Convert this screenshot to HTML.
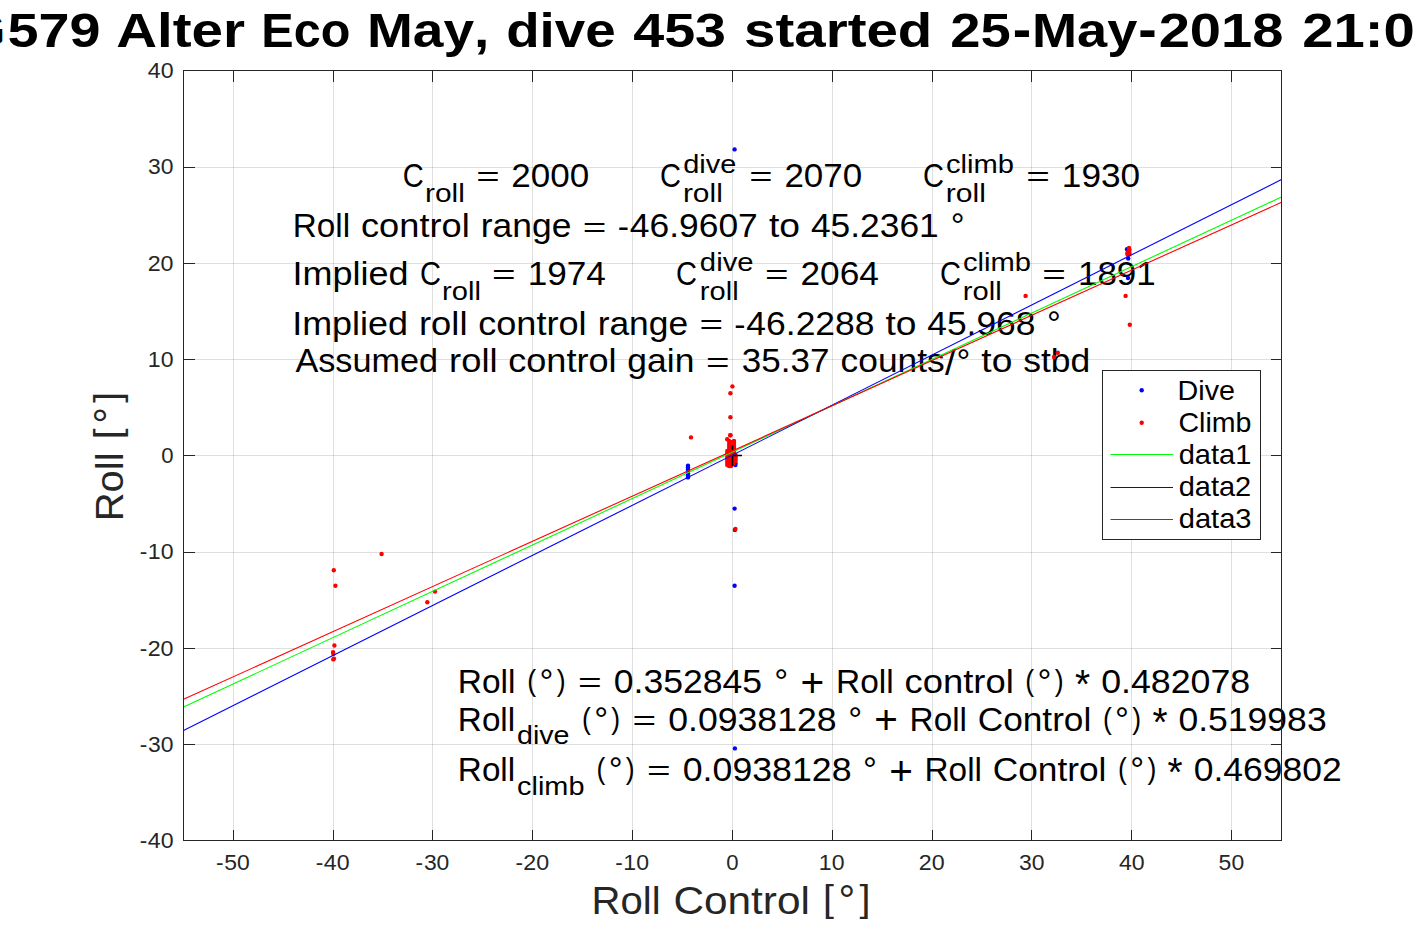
<!DOCTYPE html>
<html><head><meta charset="utf-8"><style>
html,body{margin:0;padding:0;background:#fff;overflow:hidden;}
svg{display:block;font-family:"Liberation Sans",sans-serif;font-kerning:none;}
text{font-kerning:none;}
</style></head><body>
<svg width="1417" height="945" viewBox="0 0 1417 945">
<rect x="0" y="0" width="1417" height="945" fill="#fff"/>
<path d="M233.5 70.5V840.5M333.5 70.5V840.5M432.5 70.5V840.5M532.5 70.5V840.5M632.5 70.5V840.5M732.5 70.5V840.5M832.5 70.5V840.5M932.5 70.5V840.5M1031.5 70.5V840.5M1131.5 70.5V840.5M1231.5 70.5V840.5" stroke="#262626" stroke-opacity="0.15" stroke-width="1" fill="none" shape-rendering="crispEdges"/>
<path d="M183.5 840.5H1281.5M183.5 744.5H1281.5M183.5 648.5H1281.5M183.5 552.5H1281.5M183.5 455.5H1281.5M183.5 359.5H1281.5M183.5 263.5H1281.5M183.5 167.5H1281.5M183.5 70.5H1281.5" stroke="#262626" stroke-opacity="0.15" stroke-width="1" fill="none" shape-rendering="crispEdges"/>
<text transform="matrix(0.8841 0 0 1 402.82 187.00)" font-size="32.90" fill="#000">C</text>
<text transform="matrix(1.1368 0 0 1 425.01 202.00)" font-size="26.31" fill="#000">roll</text>
<text transform="matrix(1.2188 0 0 0.8341 476.14 186.22)" font-size="32.90" fill="#000">=</text>
<text transform="matrix(1.0656 0 0 1 511.29 187.00)" font-size="32.90" fill="#000">2000</text>
<text transform="matrix(0.8841 0 0 1 659.92 187.00)" font-size="32.90" fill="#000">C</text>
<text transform="matrix(1.1001 0 0 1 683.28 172.80)" font-size="26.31" fill="#000">dive</text>
<text transform="matrix(1.1368 0 0 1 682.91 202.00)" font-size="26.31" fill="#000">roll</text>
<text transform="matrix(1.2155 0 0 0.8341 749.35 186.22)" font-size="32.90" fill="#000">=</text>
<text transform="matrix(1.0627 0 0 1 784.40 187.00)" font-size="32.90" fill="#000">2070</text>
<text transform="matrix(0.8841 0 0 1 923.12 187.00)" font-size="32.90" fill="#000">C</text>
<text transform="matrix(1.1068 0 0 1 945.96 172.80)" font-size="26.31" fill="#000">climb</text>
<text transform="matrix(1.1431 0 0 1 945.80 202.00)" font-size="26.31" fill="#000">roll</text>
<text transform="matrix(1.2288 0 0 0.8341 1026.13 186.22)" font-size="32.90" fill="#000">=</text>
<text transform="matrix(1.0710 0 0 1 1061.80 187.00)" font-size="32.90" fill="#000">1930</text>
<text transform="matrix(1.0123 0 0 1 292.77 237.30)" font-size="32.90" fill="#000">Roll</text>
<text transform="matrix(1.1012 0 0 1 361.01 237.30)" font-size="32.90" fill="#000">control</text>
<text transform="matrix(1.0772 0 0 1 480.73 237.30)" font-size="32.90" fill="#000">range</text>
<text transform="matrix(1.2288 0 0 0.8341 582.78 236.52)" font-size="32.90" fill="#000">=</text>
<text transform="matrix(1.0281 0 0 0.9762 617.72 237.25)" font-size="32.90" fill="#000">-</text>
<text transform="matrix(1.0774 0 0 1 629.73 237.30)" font-size="32.90" fill="#000">46.9607</text>
<text transform="matrix(1.1323 0 0 1 769.00 237.30)" font-size="32.90" fill="#000">to</text>
<text transform="matrix(1.0751 0 0 1 810.91 237.30)" font-size="32.90" fill="#000">45.2361</text>
<text transform="matrix(1.0534 0 0 1.0610 950.82 238.42)" font-size="32.90" fill="#000">°</text>
<text transform="matrix(1.0932 0 0 1 292.48 285.00)" font-size="32.90" fill="#000">Implied</text>
<text transform="matrix(0.8841 0 0 1 419.92 285.00)" font-size="32.90" fill="#000">C</text>
<text transform="matrix(1.1062 0 0 1 442.07 300.00)" font-size="26.31" fill="#000">roll</text>
<text transform="matrix(1.2275 0 0 0.8341 492.03 284.22)" font-size="32.90" fill="#000">=</text>
<text transform="matrix(1.0695 0 0 1 527.66 285.00)" font-size="32.90" fill="#000">1974</text>
<text transform="matrix(0.8841 0 0 1 676.02 285.00)" font-size="32.90" fill="#000">C</text>
<text transform="matrix(1.1131 0 0 1 699.87 270.80)" font-size="26.31" fill="#000">dive</text>
<text transform="matrix(1.1062 0 0 1 699.87 300.00)" font-size="26.31" fill="#000">roll</text>
<text transform="matrix(1.2275 0 0 0.8341 765.03 284.22)" font-size="32.90" fill="#000">=</text>
<text transform="matrix(1.0728 0 0 1 800.42 285.00)" font-size="32.90" fill="#000">2064</text>
<text transform="matrix(0.8841 0 0 1 940.12 285.00)" font-size="32.90" fill="#000">C</text>
<text transform="matrix(1.1068 0 0 1 962.96 270.80)" font-size="26.31" fill="#000">climb</text>
<text transform="matrix(1.1062 0 0 1 962.87 300.00)" font-size="26.31" fill="#000">roll</text>
<text transform="matrix(1.2290 0 0 0.8341 1042.23 284.22)" font-size="32.90" fill="#000">=</text>
<text transform="matrix(1.0643 0 0 1 1077.92 285.00)" font-size="32.90" fill="#000">1891</text>
<text transform="matrix(1.0928 0 0 1 292.18 335.10)" font-size="32.90" fill="#000">Implied</text>
<text transform="matrix(1.1057 0 0 1 418.98 335.10)" font-size="32.90" fill="#000">roll</text>
<text transform="matrix(1.0992 0 0 1 478.13 335.10)" font-size="32.90" fill="#000">control</text>
<text transform="matrix(1.0753 0 0 1 597.63 335.10)" font-size="32.90" fill="#000">range</text>
<text transform="matrix(1.2266 0 0 0.8341 699.50 334.32)" font-size="32.90" fill="#000">=</text>
<text transform="matrix(1.0262 0 0 0.9762 734.37 335.05)" font-size="32.90" fill="#000">-</text>
<text transform="matrix(1.0780 0 0 1 746.36 335.10)" font-size="32.90" fill="#000">46.2288</text>
<text transform="matrix(1.1303 0 0 1 885.38 335.10)" font-size="32.90" fill="#000">to</text>
<text transform="matrix(1.0759 0 0 1 927.21 335.10)" font-size="32.90" fill="#000">45.968</text>
<text transform="matrix(1.0515 0 0 1.0610 1046.94 336.22)" font-size="32.90" fill="#000">°</text>
<text transform="matrix(1.0402 0 0 1 295.43 372.40)" font-size="32.90" fill="#000">Assumed</text>
<text transform="matrix(1.1049 0 0 1 449.08 372.40)" font-size="32.90" fill="#000">roll</text>
<text transform="matrix(1.0984 0 0 1 508.20 372.40)" font-size="32.90" fill="#000">control</text>
<text transform="matrix(1.0768 0 0 1 627.36 372.40)" font-size="32.90" fill="#000">gain</text>
<text transform="matrix(1.2257 0 0 0.8341 705.98 371.62)" font-size="32.90" fill="#000">=</text>
<text transform="matrix(1.0644 0 0 1 741.85 372.40)" font-size="32.90" fill="#000">35.37</text>
<text transform="matrix(1.0742 0 0 1 840.57 372.40)" font-size="32.90" fill="#000">counts</text>
<text transform="matrix(1.1536 0 0 1.0657 944.94 374.96)" font-size="32.90" fill="#000">/</text>
<text transform="matrix(1.0507 0 0 1.0610 956.40 373.52)" font-size="32.90" fill="#000">°</text>
<text transform="matrix(1.1295 0 0 1 981.35 372.40)" font-size="32.90" fill="#000">to</text>
<text transform="matrix(1.0782 0 0 1 1023.15 372.40)" font-size="32.90" fill="#000">stbd</text>
<text transform="matrix(1.0170 0 0 1 457.86 693.00)" font-size="32.90" fill="#000">Roll</text>
<text transform="matrix(0.8099 0 0 0.9105 527.28 690.93)" font-size="32.90" fill="#000">(</text>
<text transform="matrix(1.0583 0 0 1.0610 539.45 694.12)" font-size="32.90" fill="#000">°</text>
<text transform="matrix(0.8099 0 0 0.9105 556.65 690.93)" font-size="32.90" fill="#000">)</text>
<text transform="matrix(1.2345 0 0 0.8341 577.95 692.22)" font-size="32.90" fill="#000">=</text>
<text transform="matrix(1.0819 0 0 1 613.71 693.00)" font-size="32.90" fill="#000">0.352845</text>
<text transform="matrix(1.0583 0 0 1.0610 774.36 694.12)" font-size="32.90" fill="#000">°</text>
<text transform="matrix(1.2345 0 0 1.2204 800.56 696.53)" font-size="32.90" fill="#000">+</text>
<text transform="matrix(1.0170 0 0 1 835.98 693.00)" font-size="32.90" fill="#000">Roll</text>
<text transform="matrix(1.1063 0 0 1 904.54 693.00)" font-size="32.90" fill="#000">control</text>
<text transform="matrix(0.8099 0 0 0.9105 1025.37 690.93)" font-size="32.90" fill="#000">(</text>
<text transform="matrix(1.0583 0 0 1.0610 1037.54 694.12)" font-size="32.90" fill="#000">°</text>
<text transform="matrix(0.8099 0 0 0.9105 1054.74 690.93)" font-size="32.90" fill="#000">)</text>
<text transform="matrix(1.1806 0 0 1.2372 1075.00 697.75)" font-size="32.90" fill="#000">*</text>
<text transform="matrix(1.0867 0 0 1 1101.15 693.00)" font-size="32.90" fill="#000">0.482078</text>
<text transform="matrix(1.0109 0 0 1 457.87 730.90)" font-size="32.90" fill="#000">Roll</text>
<text transform="matrix(1.0892 0 0 1 517.00 744.40)" font-size="26.31" fill="#000">dive</text>
<text transform="matrix(0.8069 0 0 0.9105 582.05 728.83)" font-size="32.90" fill="#000">(</text>
<text transform="matrix(1.0544 0 0 1.0610 594.18 732.02)" font-size="32.90" fill="#000">°</text>
<text transform="matrix(0.8069 0 0 0.9105 611.31 728.83)" font-size="32.90" fill="#000">)</text>
<text transform="matrix(1.2299 0 0 0.8341 632.54 730.12)" font-size="32.90" fill="#000">=</text>
<text transform="matrix(1.0839 0 0 1 668.16 730.90)" font-size="32.90" fill="#000">0.0938128</text>
<text transform="matrix(1.0544 0 0 1.0610 848.20 732.02)" font-size="32.90" fill="#000">°</text>
<text transform="matrix(1.2299 0 0 1.2204 874.32 734.43)" font-size="32.90" fill="#000">+</text>
<text transform="matrix(1.0132 0 0 1 909.61 730.90)" font-size="32.90" fill="#000">Roll</text>
<text transform="matrix(1.0716 0 0 1 977.70 730.90)" font-size="32.90" fill="#000">Control</text>
<text transform="matrix(0.8069 0 0 0.9105 1102.96 728.83)" font-size="32.90" fill="#000">(</text>
<text transform="matrix(1.0544 0 0 1.0610 1115.08 732.02)" font-size="32.90" fill="#000">°</text>
<text transform="matrix(0.8069 0 0 0.9105 1132.22 728.83)" font-size="32.90" fill="#000">)</text>
<text transform="matrix(1.1763 0 0 1.2372 1152.41 735.65)" font-size="32.90" fill="#000">*</text>
<text transform="matrix(1.0801 0 0 1 1178.46 730.90)" font-size="32.90" fill="#000">0.519983</text>
<text transform="matrix(1.0109 0 0 1 457.87 781.00)" font-size="32.90" fill="#000">Roll</text>
<text transform="matrix(1.0984 0 0 1 517.07 794.50)" font-size="26.31" fill="#000">climb</text>
<text transform="matrix(0.8079 0 0 0.9105 596.55 778.93)" font-size="32.90" fill="#000">(</text>
<text transform="matrix(1.0557 0 0 1.0610 608.69 782.12)" font-size="32.90" fill="#000">°</text>
<text transform="matrix(0.8079 0 0 0.9105 625.85 778.93)" font-size="32.90" fill="#000">)</text>
<text transform="matrix(1.2315 0 0 0.8341 647.10 780.22)" font-size="32.90" fill="#000">=</text>
<text transform="matrix(1.0852 0 0 1 682.76 781.00)" font-size="32.90" fill="#000">0.0938128</text>
<text transform="matrix(1.0557 0 0 1.0610 863.04 782.12)" font-size="32.90" fill="#000">°</text>
<text transform="matrix(1.2315 0 0 1.2204 889.18 784.53)" font-size="32.90" fill="#000">+</text>
<text transform="matrix(1.0145 0 0 1 924.51 781.00)" font-size="32.90" fill="#000">Roll</text>
<text transform="matrix(1.0730 0 0 1 992.69 781.00)" font-size="32.90" fill="#000">Control</text>
<text transform="matrix(0.8079 0 0 0.9105 1118.11 778.93)" font-size="32.90" fill="#000">(</text>
<text transform="matrix(1.0557 0 0 1.0610 1130.25 782.12)" font-size="32.90" fill="#000">°</text>
<text transform="matrix(0.8079 0 0 0.9105 1147.41 778.93)" font-size="32.90" fill="#000">)</text>
<text transform="matrix(1.1778 0 0 1.2372 1167.62 785.75)" font-size="32.90" fill="#000">*</text>
<text transform="matrix(1.0785 0 0 1 1193.71 781.00)" font-size="32.90" fill="#000">0.469802</text>
<g><circle cx="734.6" cy="149.4" r="2.2" fill="#0000ff"/><circle cx="734.9" cy="748.4" r="2.2" fill="#0000ff"/><circle cx="734.6" cy="508.6" r="2.2" fill="#0000ff"/><circle cx="734.9" cy="529.9" r="2.2" fill="#0000ff"/><circle cx="734.6" cy="585.7" r="2.2" fill="#0000ff"/><circle cx="1127" cy="249.3" r="2.2" fill="#0000ff"/><circle cx="1128.2" cy="258.5" r="2.2" fill="#0000ff"/><circle cx="1128" cy="278" r="2.2" fill="#0000ff"/><circle cx="1127.5" cy="253" r="2.2" fill="#0000ff"/><circle cx="688" cy="465.7" r="2.2" fill="#0000ff"/><circle cx="688" cy="467.5" r="2.2" fill="#0000ff"/><circle cx="688" cy="469.5" r="2.2" fill="#0000ff"/><circle cx="688" cy="471.5" r="2.2" fill="#0000ff"/><circle cx="688" cy="473.5" r="2.2" fill="#0000ff"/><circle cx="688" cy="475.5" r="2.2" fill="#0000ff"/><circle cx="688" cy="477.4" r="2.2" fill="#0000ff"/><circle cx="735.4" cy="463.3" r="2.2" fill="#0000ff"/><circle cx="735.4" cy="465.0" r="2.2" fill="#0000ff"/><circle cx="734" cy="458" r="2.2" fill="#0000ff"/><circle cx="732.4" cy="386.4" r="2.2" fill="#ff0000"/><circle cx="730.4" cy="393.3" r="2.2" fill="#ff0000"/><circle cx="730.4" cy="417.2" r="2.2" fill="#ff0000"/><circle cx="730.4" cy="435.3" r="2.2" fill="#ff0000"/><circle cx="691" cy="437.4" r="2.2" fill="#ff0000"/><circle cx="735.4" cy="529.0" r="2.2" fill="#ff0000"/><circle cx="1025.6" cy="295.9" r="2.2" fill="#ff0000"/><circle cx="1125.6" cy="295.9" r="2.2" fill="#ff0000"/><circle cx="1129.8" cy="324.8" r="2.2" fill="#ff0000"/><circle cx="1057.8" cy="352.7" r="2.2" fill="#ff0000"/><circle cx="1054" cy="357" r="2.2" fill="#ff0000"/><circle cx="381.6" cy="554.0" r="2.2" fill="#ff0000"/><circle cx="333.8" cy="570.3" r="2.2" fill="#ff0000"/><circle cx="335.4" cy="585.8" r="2.2" fill="#ff0000"/><circle cx="435.0" cy="591.6" r="2.2" fill="#ff0000"/><circle cx="427.3" cy="602.2" r="2.2" fill="#ff0000"/><circle cx="334.4" cy="645.5" r="2.2" fill="#ff0000"/><circle cx="333.1" cy="652.1" r="2.2" fill="#ff0000"/><circle cx="333.3" cy="653.9" r="2.2" fill="#ff0000"/><circle cx="333.3" cy="659.4" r="2.2" fill="#ff0000"/><circle cx="334" cy="658.6" r="2.2" fill="#ff0000"/><circle cx="1129" cy="248" r="2.2" fill="#ff0000"/><circle cx="1129.5" cy="250" r="2.2" fill="#ff0000"/><circle cx="1128" cy="252" r="2.2" fill="#ff0000"/><circle cx="1129.5" cy="253.5" r="2.2" fill="#ff0000"/><circle cx="1127.5" cy="254.5" r="2.2" fill="#ff0000"/><circle cx="1129" cy="254.5" r="2.2" fill="#ff0000"/><circle cx="730.3" cy="435.3" r="2.2" fill="#ff0000"/><circle cx="727.2" cy="439.3" r="2.2" fill="#ff0000"/><circle cx="729" cy="441" r="2.2" fill="#ff0000"/><circle cx="733.8" cy="442.8" r="2.2" fill="#ff0000"/><circle cx="731" cy="442" r="2.2" fill="#ff0000"/><circle cx="731" cy="444" r="2.2" fill="#ff0000"/><circle cx="731" cy="446" r="2.2" fill="#ff0000"/><circle cx="731" cy="448" r="2.2" fill="#ff0000"/><circle cx="731" cy="450" r="2.2" fill="#ff0000"/><circle cx="731" cy="452" r="2.2" fill="#ff0000"/><circle cx="731" cy="454" r="2.2" fill="#ff0000"/><circle cx="731" cy="456" r="2.2" fill="#ff0000"/><circle cx="731" cy="458" r="2.2" fill="#ff0000"/><circle cx="731" cy="460" r="2.2" fill="#ff0000"/><circle cx="731" cy="462" r="2.2" fill="#ff0000"/><circle cx="731" cy="464" r="2.2" fill="#ff0000"/><circle cx="731" cy="466" r="2.2" fill="#ff0000"/><circle cx="729.2" cy="444" r="2.2" fill="#ff0000"/><circle cx="729.2" cy="446" r="2.2" fill="#ff0000"/><circle cx="729.2" cy="448" r="2.2" fill="#ff0000"/><circle cx="729.2" cy="450" r="2.2" fill="#ff0000"/><circle cx="729.2" cy="452" r="2.2" fill="#ff0000"/><circle cx="729.2" cy="454" r="2.2" fill="#ff0000"/><circle cx="729.2" cy="456" r="2.2" fill="#ff0000"/><circle cx="729.2" cy="458" r="2.2" fill="#ff0000"/><circle cx="729.2" cy="460" r="2.2" fill="#ff0000"/><circle cx="729.2" cy="462" r="2.2" fill="#ff0000"/><circle cx="729.2" cy="464" r="2.2" fill="#ff0000"/><circle cx="729.2" cy="466" r="2.2" fill="#ff0000"/><circle cx="734.0" cy="441" r="2.2" fill="#ff0000"/><circle cx="734.0" cy="443" r="2.2" fill="#ff0000"/><circle cx="734.0" cy="445" r="2.2" fill="#ff0000"/><circle cx="734.0" cy="447" r="2.2" fill="#ff0000"/><circle cx="734.0" cy="449" r="2.2" fill="#ff0000"/><circle cx="734.0" cy="451" r="2.2" fill="#ff0000"/><circle cx="734.0" cy="453" r="2.2" fill="#ff0000"/><circle cx="727.3" cy="451" r="2.2" fill="#ff0000"/><circle cx="727.3" cy="453" r="2.2" fill="#ff0000"/><circle cx="727.3" cy="455" r="2.2" fill="#ff0000"/><circle cx="727.3" cy="457" r="2.2" fill="#ff0000"/><circle cx="727.3" cy="459" r="2.2" fill="#ff0000"/><circle cx="727.3" cy="461" r="2.2" fill="#ff0000"/><circle cx="727.3" cy="463" r="2.2" fill="#ff0000"/><circle cx="727.3" cy="465" r="2.2" fill="#ff0000"/><circle cx="735.6" cy="455" r="2.2" fill="#ff0000"/><circle cx="735.6" cy="457" r="2.2" fill="#ff0000"/><circle cx="735.6" cy="459" r="2.2" fill="#ff0000"/><circle cx="735.6" cy="461" r="2.2" fill="#ff0000"/><circle cx="733.2" cy="455" r="2.2" fill="#ff0000"/><circle cx="733.2" cy="458" r="2.2" fill="#ff0000"/><circle cx="733.2" cy="461" r="2.2" fill="#ff0000"/><circle cx="733.2" cy="464" r="2.2" fill="#ff0000"/></g>
<path d="M732.5 445.5V450M732.5 455.5V466M732.5 455.5H742" stroke="#000" stroke-width="1.6" fill="none"/>
<defs><clipPath id="ax"><rect x="183" y="70" width="1099" height="771"/></clipPath></defs>
<line x1="183.5" y1="707.0" x2="1281.5" y2="197.0" stroke="#00ff00" stroke-width="1.1" clip-path="url(#ax)"/>
<line x1="183.5" y1="730.5" x2="1281.5" y2="179.6" stroke="#0000ff" stroke-width="1.1" clip-path="url(#ax)"/>
<line x1="183.5" y1="699.3" x2="1281.5" y2="202.3" stroke="#ff0000" stroke-width="1.1" clip-path="url(#ax)"/>
<path d="M183.5 70.5H1281.5V840.5H183.5ZM233.5 840.5V829.5M233.5 70.5V81.5M333.5 840.5V829.5M333.5 70.5V81.5M432.5 840.5V829.5M432.5 70.5V81.5M532.5 840.5V829.5M532.5 70.5V81.5M632.5 840.5V829.5M632.5 70.5V81.5M732.5 840.5V829.5M732.5 70.5V81.5M832.5 840.5V829.5M832.5 70.5V81.5M932.5 840.5V829.5M932.5 70.5V81.5M1031.5 840.5V829.5M1031.5 70.5V81.5M1131.5 840.5V829.5M1131.5 70.5V81.5M1231.5 840.5V829.5M1231.5 70.5V81.5M183.5 840.5H194.5M1281.5 840.5H1270.5M183.5 744.5H194.5M1281.5 744.5H1270.5M183.5 648.5H194.5M1281.5 648.5H1270.5M183.5 552.5H194.5M1281.5 552.5H1270.5M183.5 455.5H194.5M1281.5 455.5H1270.5M183.5 359.5H194.5M1281.5 359.5H1270.5M183.5 263.5H194.5M1281.5 263.5H1270.5M183.5 167.5H194.5M1281.5 167.5H1270.5M183.5 70.5H194.5M1281.5 70.5H1270.5" stroke="#262626" stroke-width="1" fill="none" shape-rendering="crispEdges"/>
<text transform="matrix(1.0267 0 0 0.9762 139.71 848.07)" font-size="22.05" fill="#262626">-</text>
<text transform="matrix(1.0493 0 0 1 147.77 848.10)" font-size="22.05" fill="#262626">40</text>
<text transform="matrix(1.0267 0 0 0.9762 139.71 751.82)" font-size="22.05" fill="#262626">-</text>
<text transform="matrix(1.0395 0 0 1 148.00 751.85)" font-size="22.05" fill="#262626">30</text>
<text transform="matrix(1.0267 0 0 0.9762 139.71 655.57)" font-size="22.05" fill="#262626">-</text>
<text transform="matrix(1.0547 0 0 1 147.64 655.60)" font-size="22.05" fill="#262626">20</text>
<text transform="matrix(1.0267 0 0 0.9762 139.71 559.32)" font-size="22.05" fill="#262626">-</text>
<text transform="matrix(1.0471 0 0 1 147.82 559.35)" font-size="22.05" fill="#262626">10</text>
<text transform="matrix(1.0039 0 0 1 161.15 463.10)" font-size="22.05" fill="#262626">0</text>
<text transform="matrix(1.0471 0 0 1 147.82 366.85)" font-size="22.05" fill="#262626">10</text>
<text transform="matrix(1.0547 0 0 1 147.64 270.60)" font-size="22.05" fill="#262626">20</text>
<text transform="matrix(1.0395 0 0 1 148.00 174.35)" font-size="22.05" fill="#262626">30</text>
<text transform="matrix(1.0493 0 0 1 147.77 78.10)" font-size="22.05" fill="#262626">40</text>
<text transform="matrix(1.0267 0 0 0.9762 215.96 870.07)" font-size="22.05" fill="#262626">-</text>
<text transform="matrix(1.0406 0 0 1 224.22 870.10)" font-size="22.05" fill="#262626">50</text>
<text transform="matrix(1.0267 0 0 0.9762 315.78 870.07)" font-size="22.05" fill="#262626">-</text>
<text transform="matrix(1.0493 0 0 1 323.83 870.10)" font-size="22.05" fill="#262626">40</text>
<text transform="matrix(1.0267 0 0 0.9762 415.60 870.07)" font-size="22.05" fill="#262626">-</text>
<text transform="matrix(1.0395 0 0 1 423.88 870.10)" font-size="22.05" fill="#262626">30</text>
<text transform="matrix(1.0267 0 0 0.9762 515.42 870.07)" font-size="22.05" fill="#262626">-</text>
<text transform="matrix(1.0547 0 0 1 523.34 870.10)" font-size="22.05" fill="#262626">20</text>
<text transform="matrix(1.0267 0 0 0.9762 615.24 870.07)" font-size="22.05" fill="#262626">-</text>
<text transform="matrix(1.0471 0 0 1 623.34 870.10)" font-size="22.05" fill="#262626">10</text>
<text transform="matrix(1.0039 0 0 1 726.14 870.10)" font-size="22.05" fill="#262626">0</text>
<text transform="matrix(1.0471 0 0 1 818.85 870.10)" font-size="22.05" fill="#262626">10</text>
<text transform="matrix(1.0547 0 0 1 918.87 870.10)" font-size="22.05" fill="#262626">20</text>
<text transform="matrix(1.0395 0 0 1 1019.02 870.10)" font-size="22.05" fill="#262626">30</text>
<text transform="matrix(1.0493 0 0 1 1118.89 870.10)" font-size="22.05" fill="#262626">40</text>
<text transform="matrix(1.0406 0 0 1 1218.62 870.10)" font-size="22.05" fill="#262626">50</text>
<text transform="matrix(1.0109 0 0 1 591.61 913.75)" font-size="39.62" fill="#262626">Roll</text>
<text transform="matrix(1.0692 0 0 1 673.42 913.75)" font-size="39.62" fill="#262626">Control</text>
<text transform="matrix(0.9922 0 0 0.9110 823.10 911.23)" font-size="39.62" fill="#262626">[</text>
<text transform="matrix(1.0519 0 0 1.0610 838.49 915.10)" font-size="39.62" fill="#262626">°</text>
<text transform="matrix(0.9922 0 0 0.9110 859.61 911.23)" font-size="39.62" fill="#262626">]</text>
<g transform="translate(122.8 0) rotate(-90)">
<text transform="matrix(1.0091 0 0 1 -521.28 0.00)" font-size="39.62" fill="#262626">Roll</text>
<text transform="matrix(0.9904 0 0 0.9110 -439.14 -2.52)" font-size="39.62" fill="#262626">[</text>
<text transform="matrix(1.0501 0 0 1.0610 -423.78 1.35)" font-size="39.62" fill="#262626">°</text>
<text transform="matrix(0.9904 0 0 0.9110 -402.70 -2.52)" font-size="39.62" fill="#262626">]</text>
</g>
<text transform="matrix(0.9841 0 0 1 -31.67 46.90)" font-size="48.18" font-weight="bold" fill="#000">G</text>
<text transform="matrix(1.1581 0 0 1 7.48 46.90)" font-size="48.18" font-weight="bold" fill="#000">579</text>
<text transform="matrix(1.1736 0 0 1 116.24 46.90)" font-size="48.18" font-weight="bold" fill="#000">Alter</text>
<text transform="matrix(1.0075 0 0 1 261.31 46.90)" font-size="48.18" font-weight="bold" fill="#000">Eco</text>
<text transform="matrix(1.1431 0 0 1 366.92 46.90)" font-size="48.18" font-weight="bold" fill="#000">May,</text>
<text transform="matrix(1.1352 0 0 1 506.17 46.90)" font-size="48.18" font-weight="bold" fill="#000">dive</text>
<text transform="matrix(1.1560 0 0 1 633.16 46.90)" font-size="48.18" font-weight="bold" fill="#000">453</text>
<text transform="matrix(1.1716 0 0 1 744.10 46.90)" font-size="48.18" font-weight="bold" fill="#000">started</text>
<text transform="matrix(1.1274 0 0 1 950.19 46.90)" font-size="48.18" font-weight="bold" fill="#000">25</text>
<text transform="matrix(1.1502 0 0 1.1358 1012.63 47.88)" font-size="48.18" font-weight="bold" fill="#000">-</text>
<text transform="matrix(1.1247 0 0 1 1031.94 46.90)" font-size="48.18" font-weight="bold" fill="#000">May</text>
<text transform="matrix(1.1502 0 0 1.1358 1138.22 47.88)" font-size="48.18" font-weight="bold" fill="#000">-</text>
<text transform="matrix(1.1654 0 0 1 1158.63 46.90)" font-size="48.18" font-weight="bold" fill="#000">2018</text>
<text transform="matrix(1.1673 0 0 1 1302.32 46.90)" font-size="48.18" font-weight="bold" fill="#000">21:0</text>
<rect x="1102.5" y="370.5" width="158" height="169" fill="#fff" stroke="#262626" stroke-width="1" shape-rendering="crispEdges"/>
<text transform="matrix(1.0690 0 0 1 1177.55 399.60)" font-size="26.85" fill="#000">Dive</text>
<text transform="matrix(1.0642 0 0 1 1178.45 431.80)" font-size="26.85" fill="#000">Climb</text>
<text transform="matrix(1.0825 0 0 1 1178.68 463.60)" font-size="26.85" fill="#000">data1</text>
<text transform="matrix(1.0801 0 0 1 1178.68 496.40)" font-size="26.85" fill="#000">data2</text>
<text transform="matrix(1.0852 0 0 1 1178.68 528.00)" font-size="26.85" fill="#000">data3</text>
<circle cx="1141.7" cy="390.2" r="2.2" fill="#0000ff"/><circle cx="1141.7" cy="422.8" r="2.2" fill="#ff0000"/>
<path d="M1110.5 454.5H1173" stroke="#00ff00" stroke-width="1.1"/><path d="M1110.5 487.5H1173" stroke="#0000ff" stroke-width="1.1"/><path d="M1110.5 519.5H1173" stroke="#ff0000" stroke-width="1.1"/>
</svg>
</body></html>
